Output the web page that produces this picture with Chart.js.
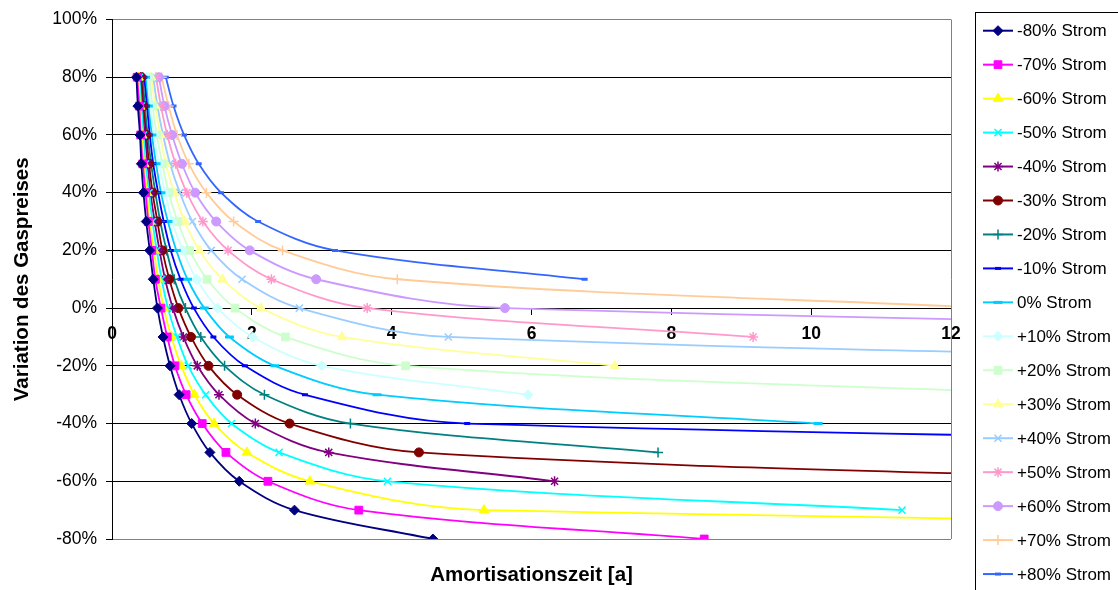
<!DOCTYPE html>
<html>
<head>
<meta charset="utf-8">
<script src="https://cdn.jsdelivr.net/npm/chart.js"></script>
<style>
  body { margin: 0; background: #fff; }
  #wrap { width: 1118px; height: 590px; overflow: hidden; }
</style>
</head>
<body>
<div id="wrap"><canvas id="amort" width="1118" height="590"></canvas></div>
<script>
// Gaspreis-Variation (y) in %, von oben nach unten
const gasVariation = [80, 70, 60, 50, 40, 30, 20, 10, 0, -10, -20, -30, -40, -50, -60, -70, -80];

const stromLabels = ['-80% Strom', '-70% Strom', '-60% Strom', '-50% Strom', '-40% Strom', '-30% Strom',
  '-20% Strom', '-10% Strom', '0% Strom', '+10% Strom', '+20% Strom', '+30% Strom', '+40% Strom',
  '+50% Strom', '+60% Strom', '+70% Strom', '+80% Strom'];

// Amortisationszeit [a] je Strompreis-Variation, gleiche Reihenfolge wie gasVariation
const amort_m80 = [0.35, 0.37, 0.40, 0.42, 0.45, 0.49, 0.54, 0.59, 0.65, 0.73, 0.83, 0.96, 1.14, 1.40, 1.82, 2.61, 4.59];
const amort_m70 = [0.36, 0.39, 0.41, 0.44, 0.48, 0.52, 0.57, 0.62, 0.70, 0.79, 0.90, 1.06, 1.29, 1.63, 2.23, 3.53, 8.47];
const amort_m60 = [0.38, 0.40, 0.43, 0.46, 0.50, 0.54, 0.60, 0.66, 0.74, 0.85, 0.99, 1.18, 1.46, 1.93, 2.83, 5.32, 43.5];
const amort_m50 = [0.39, 0.42, 0.45, 0.48, 0.53, 0.58, 0.64, 0.71, 0.80, 0.93, 1.09, 1.34, 1.71, 2.39, 3.94, 11.30];
const amort_m40 = [0.41, 0.43, 0.47, 0.51, 0.55, 0.61, 0.68, 0.76, 0.87, 1.02, 1.22, 1.53, 2.05, 3.10, 6.33];
const amort_m30 = [0.42, 0.45, 0.49, 0.53, 0.58, 0.65, 0.72, 0.82, 0.95, 1.13, 1.38, 1.79, 2.54, 4.39, 15.9];
const amort_m20 = [0.44, 0.47, 0.51, 0.56, 0.62, 0.69, 0.78, 0.89, 1.05, 1.27, 1.61, 2.18, 3.41, 7.81];
const amort_m10 = [0.46, 0.50, 0.54, 0.59, 0.66, 0.74, 0.84, 0.98, 1.17, 1.45, 1.90, 2.76, 5.08, 31.3];
const amort_0   = [0.48, 0.52, 0.57, 0.63, 0.70, 0.80, 0.92, 1.08, 1.32, 1.68, 2.33, 3.79, 10.10];
const amort_p10 = [0.50, 0.55, 0.60, 0.67, 0.76, 0.86, 1.01, 1.21, 1.51, 2.01, 3.00, 5.95];
const amort_p20 = [0.53, 0.58, 0.64, 0.72, 0.81, 0.94, 1.11, 1.36, 1.76, 2.48, 4.20, 13.7];
const amort_p30 = [0.56, 0.62, 0.69, 0.77, 0.89, 1.04, 1.25, 1.58, 2.13, 3.29, 7.19];
const amort_p40 = [0.59, 0.65, 0.73, 0.83, 0.97, 1.15, 1.42, 1.86, 2.68, 4.81, 23.3];
const amort_p50 = [0.63, 0.70, 0.79, 0.91, 1.07, 1.30, 1.66, 2.28, 3.65, 9.17];
const amort_p60 = [0.67, 0.75, 0.86, 1.00, 1.19, 1.49, 1.97, 2.92, 5.62, 30.0];
const amort_p70 = [0.71, 0.81, 0.93, 1.10, 1.35, 1.74, 2.44, 4.08, 12.6];
const amort_p80 = [0.77, 0.88, 1.03, 1.24, 1.56, 2.09, 3.19, 6.76];

const allSeries = [amort_m80, amort_m70, amort_m60, amort_m50, amort_m40, amort_m30, amort_m20, amort_m10,
  amort_0, amort_p10, amort_p20, amort_p30, amort_p40, amort_p50, amort_p60, amort_p70, amort_p80];

const colors = ['#000080', '#FF00FF', '#FFFF00', '#00FFFF', '#800080', '#800000', '#008080', '#0000FF',
  '#00CCFF', '#CCFFFF', '#CCFFCC', '#FFFF99', '#99CCFF', '#FF99CC', '#CC99FF', '#FFCC99', '#3366FF'];
const styles = ['rectRot', 'rect', 'triangle', 'crossRot', 'star', 'circle', 'cross', 'line',
  'line', 'rectRot', 'rect', 'triangle', 'crossRot', 'star', 'circle', 'cross', 'line'];

function markerRadius(st, i) {
  if (st === 'line') return i === 8 ? 4.5 : 3;
  if (st === 'circle') return 4.5;
  if (st === 'rect') return 5.5;
  if (st === 'triangle') return 5.5;
  return 5;
}
function markerBorder(st) {
  if (st === 'line') return 3;
  if (st === 'crossRot' || st === 'star' || st === 'cross') return 1.5;
  return 1;
}

const datasets = allSeries.map((arr, i) => ({
  label: stromLabels[i],
  data: arr.map((x, k) => ({x: x, y: gasVariation[k]})),
  borderColor: colors[i],
  backgroundColor: colors[i],
  borderWidth: 1.8,
  pointStyle: styles[i],
  pointRadius: markerRadius(styles[i], i),
  pointBorderWidth: markerBorder(styles[i]),
  pointBackgroundColor: colors[i],
  pointBorderColor: colors[i],
  tension: 0.35,
  fill: false
}));

// Legende mit Rahmen (wie Excel)
const boxLegend = {
  id: 'boxLegend',
  afterDraw(chart) {
    const ctx = chart.ctx;
    ctx.save();
    ctx.strokeStyle = '#000';
    ctx.lineWidth = 1;
    ctx.strokeRect(975.5, 12.5, 160, 600);
    ctx.font = '17px "Liberation Sans", Arial, sans-serif';
    ctx.textBaseline = 'middle';
    ctx.textAlign = 'left';
    chart.data.datasets.forEach((ds, i) => {
      const y = 30.7 + i * 33.96;
      ctx.strokeStyle = ds.borderColor;
      ctx.lineWidth = 2;
      ctx.beginPath();
      ctx.moveTo(983, y);
      ctx.lineTo(1013, y);
      ctx.stroke();
      ctx.fillStyle = ds.pointBackgroundColor;
      ctx.strokeStyle = ds.pointBorderColor;
      ctx.lineWidth = ds.pointBorderWidth;
      Chart.helpers.drawPoint(ctx, {pointStyle: ds.pointStyle, radius: ds.pointRadius, rotation: 0, borderWidth: ds.pointBorderWidth}, 998, y);
      ctx.fillStyle = '#000';
      ctx.fillText(ds.label, 1017, y + 1);
    });
    // Achsentitel unten
    const a = chart.chartArea;
    ctx.font = 'bold 20.5px "Liberation Sans", Arial, sans-serif';
    ctx.textAlign = 'center';
    ctx.fillText('Amortisationszeit [a]', (a.left + a.right) / 2, 575);
    ctx.restore();
  },
  beforeDatasetsDraw(chart) {
    const a = chart.chartArea;
    const ctx = chart.ctx;
    ctx.save();
    ctx.strokeStyle = '#808080';
    ctx.lineWidth = 1;
    ctx.beginPath();
    ctx.moveTo(Math.round(a.right) + 0.5, a.top);
    ctx.lineTo(Math.round(a.right) + 0.5, a.bottom);
    ctx.stroke();
    ctx.restore();
  }
};

new Chart(document.getElementById('amort'), {
  type: 'line',
  data: { datasets: datasets },
  options: {
    responsive: false,
    animation: false,
    layout: { padding: { top: 16, right: 167, bottom: 51, left: 0 } },
    elements: { line: { capBezierPoints: false } },
    plugins: { legend: { display: false }, tooltip: { enabled: false } },
    scales: {
      x: {
        type: 'linear',
        position: { y: 0 },
        min: 0, max: 12,
        ticks: {
          stepSize: 2,
          color: '#000',
          padding: 10,
          maxRotation: 0,
          font: { family: '"Liberation Sans", Arial, sans-serif', size: 17.5, weight: 'bold' }
        },
        grid: { drawOnChartArea: false, drawTicks: true, tickLength: 6, color: '#000' },
        border: { display: true, color: '#000', width: 1 }
      },
      y: {
        type: 'linear',
        min: -80, max: 100,
        afterFit(s) { s.width = 112; },
        ticks: {
          stepSize: 20,
          color: '#000',
          padding: 9,
          callback: v => v + '%',
          font: { family: '"Liberation Sans", Arial, sans-serif', size: 17.5 }
        },
        grid: {
          color: c => (c.tick && (c.tick.value === 100 || c.tick.value === -80)) ? '#808080' : '#000',
          tickColor: '#000',
          tickLength: 6,
          lineWidth: 1
        },
        border: { display: true, color: '#000', width: 1 },
        title: {
          display: true,
          text: 'Variation des Gaspreises',
          color: '#000',
          padding: { top: 10, bottom: 0 },
          font: { family: '"Liberation Sans", Arial, sans-serif', size: 20.5, weight: 'bold' }
        }
      }
    }
  },
  plugins: [boxLegend]
});
</script>
</body>
</html>
